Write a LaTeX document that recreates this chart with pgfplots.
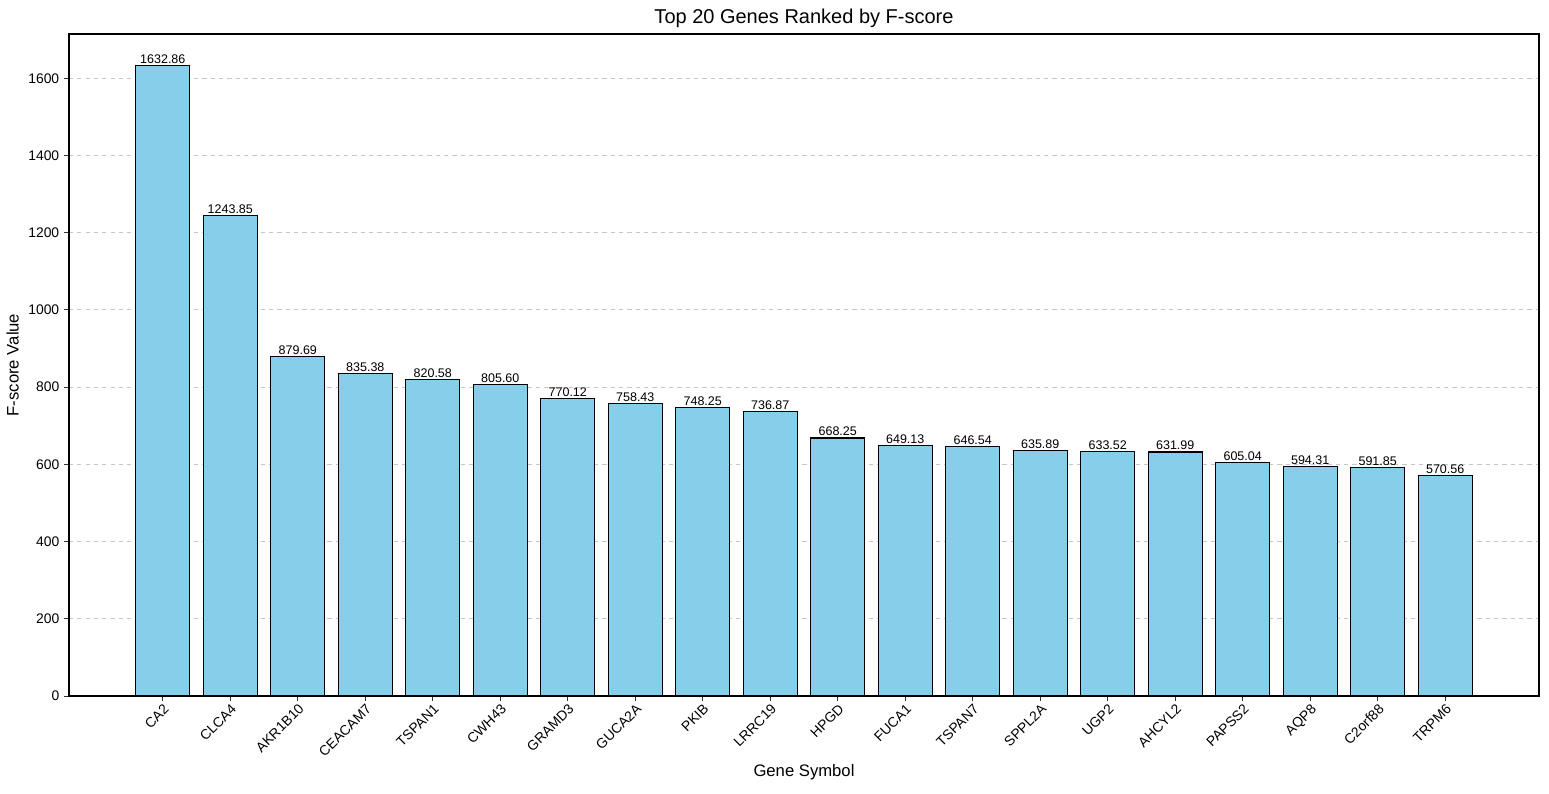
\documentclass[border=0pt]{standalone}
\usepackage{pgfplots}
\pgfplotsset{compat=1.18}
\usepackage{fontspec}
\setmainfont{Liberation Sans}
\definecolor{skyblue}{HTML}{87CEEB}
\begin{document}
\begin{tikzpicture}[x=1pt,y=1pt]
\begin{axis}[
  scale only axis,
  width=1058.4pt, height=476.6pt,
  xmin=-1.39, xmax=20.39,
  ymin=0, ymax=1714.5,
  ybar, bar width=0.8, bar shift=0pt,
  xtick=data,
  xticklabels={CA2,CLCA4,AKR1B10,CEACAM7,TSPAN1,CWH43,GRAMD3,GUCA2A,PKIB,LRRC19,HPGD,FUCA1,TSPAN7,SPPL2A,UGP2,AHCYL2,PAPSS2,AQP8,C2orf88,TRPM6},
  xticklabel style={rotate=45, anchor=north east, font=\fontsize{10}{12}\selectfont, inner sep=1pt},
  ytick={0,200,...,1600},
  yticklabel style={font=\fontsize{10}{12}\selectfont},
  /pgf/number format/assume math mode=true,
  /pgf/number format/1000 sep={},
  ymajorgrids,
  grid style={dashed, gray!45, line width=0.6pt},
  tick style={black!80, line width=0.6pt},
  major tick length=3.5pt,
  tick align=outside,
  xtick pos=bottom, ytick pos=left,
  axis line style={line width=0.8pt},
  title={Top 20 Genes Ranked by F-score},
  title style={font=\fontsize{14.4}{17}\selectfont, yshift=-5pt},
  xlabel={Gene Symbol},
  ylabel={F-score Value},
  xlabel style={font=\fontsize{12}{14}\selectfont},
  ylabel style={font=\fontsize{12}{14}\selectfont},
  nodes near coords,
  nodes near coords style={font=\fontsize{9}{10}\selectfont, /pgf/number format/fixed, /pgf/number format/fixed zerofill, /pgf/number format/precision=2, /pgf/number format/1000 sep={}, inner sep=1pt},
]
\addplot[fill=skyblue, draw=black, line width=0.8pt] coordinates {
(0,1632.86) (1,1243.85) (2,879.69) (3,835.38) (4,820.58) (5,805.60) (6,770.12) (7,758.43) (8,748.25) (9,736.87)
(10,668.25) (11,649.13) (12,646.54) (13,635.89) (14,633.52) (15,631.99) (16,605.04) (17,594.31) (18,591.85) (19,570.56)
};
\end{axis}
\path (-49.68pt,-70.56pt) rectangle (1065.6pt,501.1pt);
\end{tikzpicture}
\end{document}
